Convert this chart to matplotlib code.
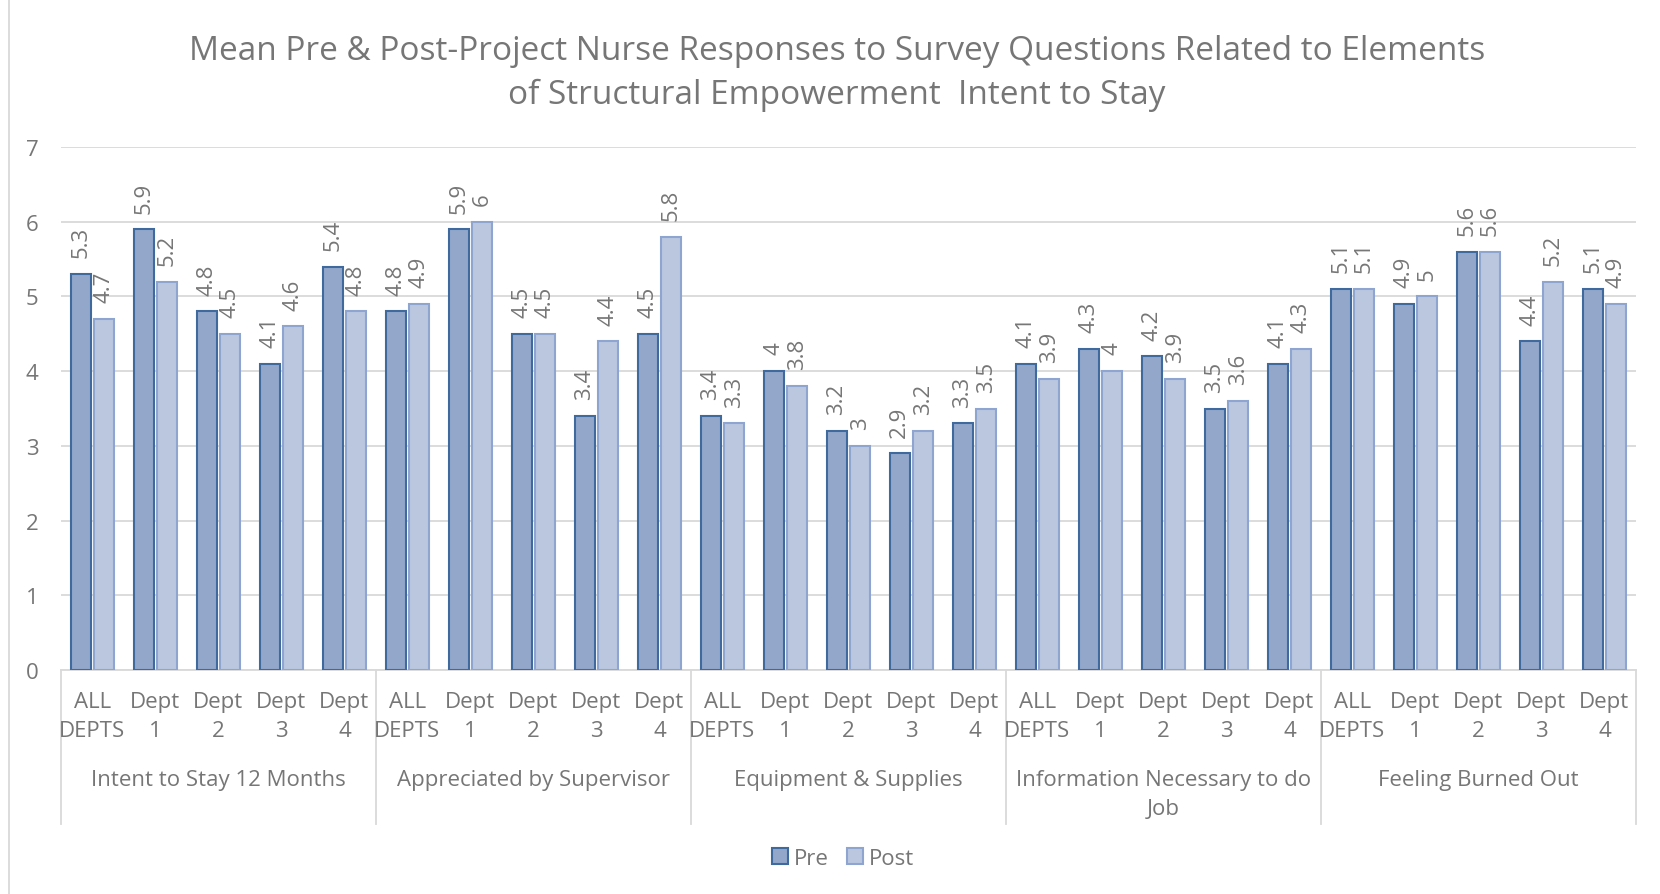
import matplotlib
matplotlib.use("Agg")
import matplotlib.pyplot as plt
import matplotlib.transforms as mtransforms
import numpy as np

plt.rcParams['font.family'] = ['Open Sans', 'DejaVu Sans']

groups = ["Intent to Stay 12 Months", "Appreciated by Supervisor",
          "Equipment & Supplies", "Information Necessary to do\nJob",
          "Feeling Burned Out"]
depts = ["ALL\nDEPTS", "Dept\n1", "Dept\n2", "Dept\n3", "Dept\n4"]

pre = [5.3, 5.9, 4.8, 4.1, 5.4,
       4.8, 5.9, 4.5, 3.4, 4.5,
       3.4, 4, 3.2, 2.9, 3.3,
       4.1, 4.3, 4.2, 3.5, 4.1,
       5.1, 4.9, 5.6, 4.4, 5.1]
post = [4.7, 5.2, 4.5, 4.6, 4.8,
        4.9, 6, 4.5, 4.4, 5.8,
        3.3, 3.8, 3, 3.2, 3.5,
        3.9, 4, 3.9, 3.6, 4.3,
        5.1, 5, 5.6, 5.2, 4.9]

txt = '#767676'
grid = '#D9D9D9'

fig = plt.figure(figsize=(16.6, 8.95), dpi=100)
ax = fig.add_axes([0.0367, 0.2503, 0.9488, 0.5843])

x = np.arange(len(pre))
w = 0.32
b1 = ax.bar(x - 0.185, pre, w, color='#93A7CB', edgecolor='#40699E', linewidth=1.5,
            label='Pre', zorder=3)
b2 = ax.bar(x + 0.185, post, w, color='#BAC7DF', edgecolor='#8EA6CF', linewidth=1.5,
            label='Post', zorder=3)

for bars, vals in ((b1, pre), (b2, post)):
    for r, v in zip(bars, vals):
        ax.annotate(f"{v:g}", (r.get_x() + r.get_width() / 2, v),
                    xytext=(0, 12), textcoords='offset points',
                    rotation=90, ha='center', va='bottom',
                    fontsize=16, color=txt)

ax.set_xlim(-0.5, len(pre) - 0.5)
ax.set_ylim(0, 7)
ax.set_yticks(range(8))
ax.tick_params(axis='y', length=0, labelsize=16, labelcolor=txt, pad=16)
ax.tick_params(axis='x', length=0, labelbottom=False)
ax.yaxis.grid(True, color=grid, linewidth=1.3, zorder=0)
for s in ['top', 'right', 'left']:
    ax.spines[s].set_visible(False)
ax.spines['bottom'].set_color(grid)
ax.spines['bottom'].set_linewidth(1.3)

trans = mtransforms.blended_transform_factory(ax.transData, ax.transAxes)
for i in range(len(pre)):
    ax.text(i, -0.04, depts[i % 5], transform=trans, ha='center', va='top',
            fontsize=16, color=txt, linespacing=1.5)
for g in range(len(groups)):
    ax.text(g * 5 + 2, -0.19, groups[g], transform=trans, ha='center', va='top',
            fontsize=16, color=txt, linespacing=1.5)
for g in range(len(groups) + 1):
    ax.plot([g * 5 - 0.5] * 2, [0, -0.295], transform=trans, color=grid,
            linewidth=1.3, clip_on=False)

fig.text(0.504, 0.918,
         "Mean Pre & Post-Project Nurse Responses to Survey Questions Related to Elements\n"
         "of Structural Empowerment  Intent to Stay",
         ha='center', va='center', fontsize=24, color=txt, linespacing=1.4)

fig.legend(handles=[b1, b2], loc='center', bbox_to_anchor=(0.508, 0.04), ncol=2,
           frameon=False, fontsize=16, labelcolor=txt, handlelength=0.7,
           handleheight=0.7, handletextpad=0.3, columnspacing=0.8)

fig.add_artist(plt.Line2D([0.0055, 0.0055], [0, 1], transform=fig.transFigure,
                          color=grid, linewidth=1.3))

fig.savefig('out.png', dpi=100)
